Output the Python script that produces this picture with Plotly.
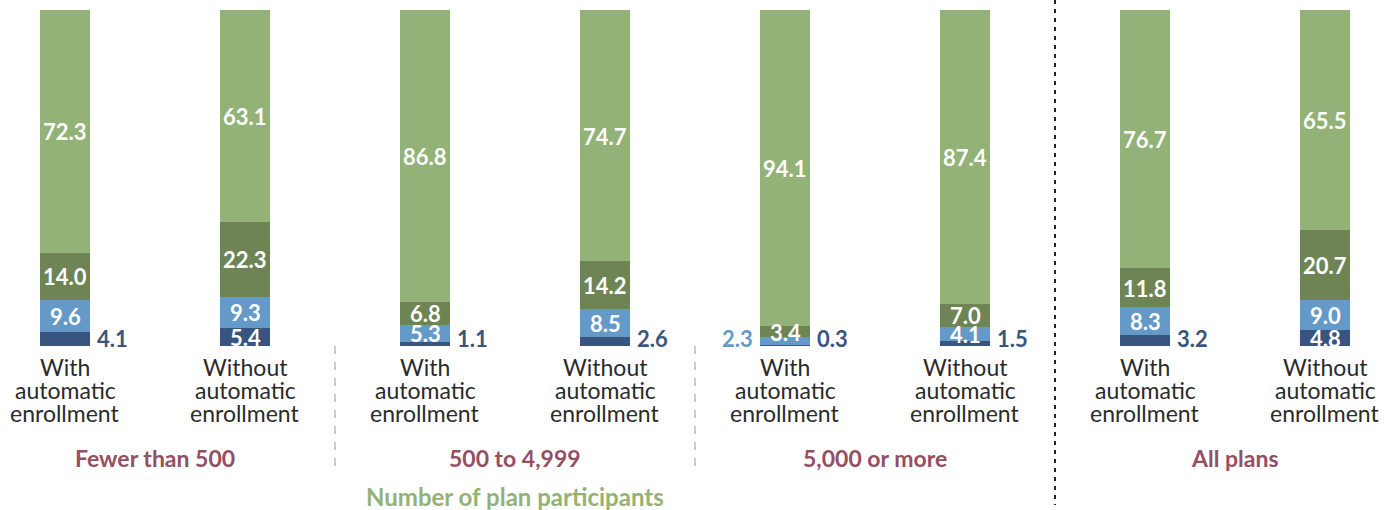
import plotly.graph_objects as go

# ---- data ----
bar_labels = ["With automatic enrollment", "Without automatic enrollment"] * 4
groups = ["Fewer than 500", "500 to 4,999", "5,000 or more", "All plans"]
axis_title = "Number of plan participants"

series_names = ["Series 1", "Series 2", "Series 3", "Series 4"]
s1 = [4.1, 5.4, 1.1, 2.6, 0.3, 1.5, 3.2, 4.8]      # dark blue (bottom)
s2 = [9.6, 9.3, 5.3, 8.5, 2.3, 4.1, 8.3, 9.0]      # light blue
s3 = [14.0, 22.3, 6.8, 14.2, 3.4, 7.0, 11.8, 20.7]  # dark green
s4 = [72.3, 63.1, 86.8, 74.7, 94.1, 87.4, 76.7, 65.5]  # light green (top)

colors = ["#39547F", "#6499C8", "#6E8454", "#93B277"]
FONT = "Lato"

W, H = 1397, 510
PX_X = 180.0          # px per category
PX_Y = 3.36           # px per percentage point
BASE_PX = 346         # pixel row of the zero line
X0 = -65 / PX_X
Y_MIN = -(H - BASE_PX) / PX_Y
Y_MAX = BASE_PX / PX_Y


def dy(px):
    return px / PX_Y


xs = list(range(len(s1)))
bw = 50 / PX_X

fig = go.Figure()
all_series = [s1, s2, s3, s4]
for name, vals, col in zip(series_names, all_series, colors):
    fig.add_trace(go.Bar(x=xs, y=vals, name=name, marker=dict(color=col, line=dict(width=0)),
                         width=bw, showlegend=False, hoverinfo="skip"))

annotations = []
for i in xs:
    cum = 0.0
    for k, vals in enumerate(all_series):
        v = vals[i]
        center = cum + v / 2
        txt = f"{v:.1f}"
        if k == 0 and v < 4.5:
            annotations.append(dict(x=i + bw / 2, y=dy(8), text=txt, xanchor="left", yanchor="middle",
                                    xshift=5, showarrow=False, height=18,
                                    font=dict(family=FONT, size=22, color=colors[0], weight="bold")))
        elif k == 1 and v < 3:
            annotations.append(dict(x=i - bw / 2, y=dy(8), text=txt, xanchor="right", yanchor="middle",
                                    xshift=-5, showarrow=False, height=18,
                                    font=dict(family=FONT, size=22, color=colors[1], weight="bold")))
        else:
            annotations.append(dict(x=i, y=center, text=txt, xanchor="center", yanchor="middle",
                                    showarrow=False, height=18,
                                    font=dict(family=FONT, size=22, color="white", weight="bold")))
        cum += v
    # category label, three lines
    words = bar_labels[i].split(" ")
    lines = [words[0], words[1], " ".join(words[2:])]
    for j, ln in enumerate(lines):
        annotations.append(dict(x=i, y=-dy(21 + 23 * j), text=ln, xanchor="center", yanchor="middle",
                                showarrow=False, height=22,
                                font=dict(family=FONT, size=23, color="#2b2b2b")))

for g, name in enumerate(groups):
    annotations.append(dict(x=2 * g + 0.5, y=-dy(458 - BASE_PX), text=name, showarrow=False,
                            xanchor="center", yanchor="middle",
                            font=dict(family=FONT, size=23, color="#954F63", weight="bold")))
annotations.append(dict(x=2.5, y=-dy(496 - BASE_PX), text=axis_title, showarrow=False,
                        xanchor="center", yanchor="middle",
                        font=dict(family=FONT, size=24, color="#93B277", weight="bold")))

shapes = []
for xv in [1.5, 3.5]:
    shapes.append(dict(type="line", xref="x", yref="y", x0=xv, x1=xv, y0=0, y1=-dy(468 - BASE_PX),
                       line=dict(color="#9a9a9a", width=1, dash="8px,8px")))
shapes.append(dict(type="line", xref="x", yref="y", x0=5.5, x1=5.5, y0=Y_MAX, y1=-dy(505 - BASE_PX),
                   line=dict(color="#222222", width=2, dash="4px,5px")))

fig.update_layout(
    width=W, height=H, barmode="stack", bargap=0,
    margin=dict(l=0, r=0, t=0, b=0, pad=0),
    paper_bgcolor="white", plot_bgcolor="white",
    xaxis=dict(range=[X0, X0 + W / PX_X], visible=False, fixedrange=True),
    yaxis=dict(range=[Y_MIN, Y_MAX], visible=False, fixedrange=True),
    annotations=annotations, shapes=shapes,
)

fig.write_html("out.html", config={"displayModeBar": False},
               post_script="document.body.style.margin='0';document.body.style.overflow='hidden';")
